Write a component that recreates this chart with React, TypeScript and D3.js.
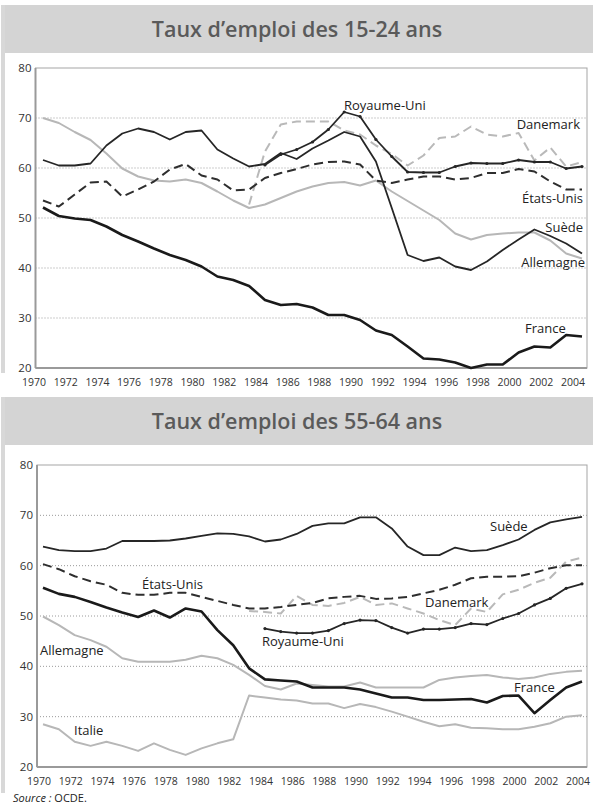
import * as d3 from "d3";

const YEARS = [
  1970, 1971, 1972, 1973, 1974, 1975, 1976, 1977, 1978, 1979, 1980, 1981, 1982, 1983, 1984, 1985, 1986,
  1987, 1988, 1989, 1990, 1991, 1992, 1993, 1994, 1995, 1996, 1997, 1998, 1999, 2000, 2001, 2002, 2003,
  2004
];
const TICK_YEARS = [1970, 1972, 1974, 1976, 1978, 1980, 1982, 1984, 1986, 1988, 1990, 1992, 1994, 1996, 1998, 2000, 2002, 2004];
const Y_TICKS = [20, 30, 40, 50, 60, 70, 80];

const N = null;

// 15-24 ans
const suede15 = [61.6, 60.5, 60.5, 60.9, 64.5, 66.9, 67.9, 67.2, 65.7, 67.2, 67.5, 63.7, 61.9, 60.3, 60.8, 63.0, 61.8, 63.9, 65.5, 67.2, 66.3, 61.3, 52.0, 42.6, 41.4, 42.1, 40.3, 39.6, 41.3, 43.6, 45.7, 47.7, 46.4, 44.9, 42.9];
const ru15 = [N, N, N, N, N, N, N, N, N, N, N, N, N, N, 60.6, 62.7, 63.7, 65.2, 67.7, 71.2, 70.3, 65.7, 62.3, 59.2, 59.1, 59.1, 60.3, 61.0, 60.9, 60.9, 61.6, 61.2, 61.2, 59.9, 60.3];
const allemagne15 = [70.0, 69.0, 67.2, 65.6, 62.9, 59.9, 58.3, 57.5, 57.3, 57.7, 57.0, 55.3, 53.5, 52.0, 52.7, 54.0, 55.3, 56.3, 57.0, 57.2, 56.5, 57.5, 55.3, 53.4, 51.5, 49.6, 46.9, 45.7, 46.6, 46.9, 47.1, 47.1, 45.5, 42.9, 41.9];
const usa15 = [53.5, 52.3, 54.7, 57.1, 57.3, 54.3, 55.7, 57.3, 59.7, 60.8, 58.5, 57.7, 55.5, 55.7, 58.0, 59.0, 59.8, 60.7, 61.2, 61.3, 60.7, 57.5, 57.0, 57.7, 58.3, 58.3, 57.7, 58.0, 59.0, 59.0, 59.8, 59.3, 57.3, 55.7, 55.7];
const danemark15 = [N, N, N, N, N, N, N, N, N, N, N, N, N, 52.7, 63.3, 68.7, 69.3, 69.3, 69.3, 67.5, 66.7, 64.5, 62.8, 60.5, 62.5, 66.0, 66.3, 68.3, 66.7, 66.3, 67.0, 61.5, 64.1, 60.3, 61.2];
const france15 = [52.1, 50.4, 49.9, 49.6, 48.3, 46.6, 45.3, 43.9, 42.6, 41.6, 40.3, 38.3, 37.6, 36.4, 33.6, 32.6, 32.8, 32.1, 30.6, 30.6, 29.6, 27.5, 26.6, 24.3, 21.9, 21.7, 21.1, 20.0, 20.7, 20.7, 23.1, 24.3, 24.1, 26.6, 26.3];

// 55-64 ans
const suede55 = [63.8, 63.1, 62.9, 62.9, 63.4, 64.9, 64.9, 64.9, 65.0, 65.4, 65.9, 66.4, 66.3, 65.8, 64.8, 65.2, 66.3, 67.9, 68.4, 68.4, 69.6, 69.6, 67.4, 63.8, 62.1, 62.1, 63.6, 62.9, 63.1, 64.1, 65.2, 67.1, 68.6, 69.2, 69.7];
const usa55 = [60.3, 59.3, 57.9, 56.9, 56.2, 54.6, 54.2, 54.2, 54.6, 54.6, 53.8, 53.0, 52.2, 51.5, 51.5, 51.8, 52.2, 52.6, 53.5, 53.8, 54.0, 53.4, 53.5, 53.8, 54.5, 55.2, 56.2, 57.5, 57.8, 57.8, 57.9, 58.6, 59.5, 60.1, 60.1];
const danemark55 = [N, N, N, N, N, N, N, N, N, N, N, N, N, 51.0, 50.8, 50.5, 54.0, 52.2, 52.0, 52.6, 53.8, 52.2, 52.5, 51.5, 50.5, 49.2, 48.2, 51.5, 50.8, 54.3, 55.2, 56.6, 57.6, 60.8, 61.6];
const ru55 = [N, N, N, N, N, N, N, N, N, N, N, N, N, N, 47.5, 46.9, 46.6, 46.6, 47.1, 48.5, 49.2, 49.1, 47.7, 46.6, 47.4, 47.4, 47.7, 48.5, 48.3, 49.5, 50.5, 52.2, 53.5, 55.5, 56.4];
const france55 = [55.6, 54.4, 53.8, 52.8, 51.7, 50.7, 49.8, 51.1, 49.7, 51.5, 50.9, 47.2, 44.2, 39.6, 37.4, 37.2, 37.0, 35.8, 35.8, 35.8, 35.4, 34.6, 33.8, 33.8, 33.3, 33.3, 33.4, 33.5, 32.8, 34.1, 34.2, 30.7, 33.3, 35.8, 37.0];
const allemagne55 = [49.9, 48.2, 46.2, 45.2, 43.9, 41.6, 40.9, 40.9, 40.9, 41.3, 42.1, 41.6, 40.3, 38.3, 36.1, 35.4, 36.6, 36.3, 36.0, 36.0, 36.8, 35.8, 35.8, 35.8, 35.8, 37.3, 37.8, 38.1, 38.3, 37.8, 37.5, 37.8, 38.5, 38.9, 39.1];
const italie55 = [28.5, 27.5, 25.0, 24.2, 25.0, 24.2, 23.2, 24.7, 23.4, 22.4, 23.7, 24.7, 25.5, 34.2, 33.8, 33.4, 33.2, 32.6, 32.6, 31.7, 32.5, 31.9, 31.0, 30.0, 29.0, 28.1, 28.5, 27.8, 27.7, 27.5, 27.5, 28.0, 28.7, 30.0, 30.3];

type Style = "black" | "france" | "dashBlack" | "dashGrey" | "grey";
type Series = { values: (number | null)[]; style: Style; dots?: boolean };
type Label = { text: string; x: number; y: number; anchor?: string };

const STYLES: Record<Style, { stroke: string; width: number; dash?: string }> = {
  black: { stroke: "#262626", width: 1.8 },
  france: { stroke: "#1a1a1a", width: 2.6 },
  dashBlack: { stroke: "#2e2e2e", width: 2, dash: "9 5" },
  dashGrey: { stroke: "#b9b9b9", width: 2, dash: "9 5" },
  grey: { stroke: "#b7b7b7", width: 2 }
};

const FONT = "'Open Sans', 'DejaVu Sans', sans-serif";

function Panel({
  top,
  title,
  plotTop,
  plotBottom,
  plotLeft,
  tickShift,
  series,
  labels,
  barBottom
}: {
  top: number;
  title: string;
  plotTop: number;
  plotBottom: number;
  plotLeft: number;
  tickShift: number;
  series: Series[];
  labels: Label[];
  barBottom: number;
}) {
  const plotRight = 587;
  const x = d3.scaleLinear().domain([1970, 2004]).range([43, 582]);
  const y = d3.scaleLinear().domain([20, 80]).range([plotBottom, plotTop]);
  const line = d3
    .line<number | null>()
    .defined((d) => d !== null)
    .x((_, i) => x(YEARS[i]))
    .y((d) => y(d as number));

  return (
    <g>
      <rect x={2} y={top} width={591} height={48} fill="#d4d4d4" />
      <rect x={1} y={top} width={4} height={barBottom - top} fill="#d8d8d8" />
      <text
        x={297}
        y={top + 32}
        textAnchor="middle"
        fontFamily={FONT}
        fontWeight={600}
        fontSize={21.5}
        fill="#5a5a5a"
      >
        {title}
      </text>

      {Y_TICKS.filter((t) => t > 20 && t < 80).map((t) => (
        <line
          key={t}
          x1={plotLeft}
          x2={plotRight}
          y1={y(t)}
          y2={y(t)}
          stroke="#9a9a9a"
          strokeWidth={1}
          strokeDasharray="1 2"
        />
      ))}
      <rect
        x={plotLeft}
        y={plotTop}
        width={plotRight - plotLeft}
        height={plotBottom - plotTop}
        fill="none"
        stroke="#a5a5a5"
        strokeWidth={1}
      />
      <line x1={plotLeft} x2={plotLeft} y1={plotTop} y2={plotBottom} stroke="#9a9a9a" strokeWidth={2} />
      <line x1={plotLeft} x2={plotRight} y1={plotBottom} y2={plotBottom} stroke="#9a9a9a" strokeWidth={2} />

      {Y_TICKS.map((t) => (
        <text key={t} x={plotLeft - 4} y={y(t) + 4} textAnchor="end" fontFamily={FONT} fontSize={11.5} fill="#333">
          {t}
        </text>
      ))}
      {TICK_YEARS.map((t) => (
        <text
          key={t}
          x={x(t) + tickShift}
          y={plotBottom + 18}
          textAnchor="middle"
          fontFamily={FONT}
          fontSize={10.5}
          fill="#333"
        >
          {t}
        </text>
      ))}

      {series.map((s, i) => {
        const st = STYLES[s.style];
        return (
          <g key={i}>
            <path
              d={line(s.values) ?? ""}
              fill="none"
              stroke={st.stroke}
              strokeWidth={st.width}
              strokeDasharray={st.dash}
              strokeLinejoin="round"
            />
            {s.dots &&
              s.values.map((v, j) =>
                v === null ? null : <circle key={j} cx={x(YEARS[j])} cy={y(v)} r={1.6} fill={st.stroke} />
              )}
          </g>
        );
      })}

      {labels.map((l) => (
        <text
          key={l.text}
          x={l.x}
          y={l.y}
          textAnchor={l.anchor ?? "start"}
          fontFamily={FONT}
          fontSize={13}
          fill="#222"
        >
          {l.text}
        </text>
      ))}
    </g>
  );
}

export default function App() {
  return (
    <div style={{ position: "absolute", left: 0, top: 0 }}>
      <svg width={595} height={809} style={{ display: "block", background: "#fff" }}>
        <Panel
          top={5}
          title="Taux d’emploi des 15-24 ans"
          plotTop={68}
          plotBottom={368}
          plotLeft={35.5}
          tickShift={-9}
          barBottom={373}
          series={[
            { values: allemagne15, style: "grey" },
            { values: danemark15, style: "dashGrey" },
            { values: usa15, style: "dashBlack" },
            { values: suede15, style: "black" },
            { values: ru15, style: "black", dots: true },
            { values: france15, style: "france" }
          ]}
          labels={[
            { text: "Royaume-Uni", x: 344, y: 110 },
            { text: "Danemark", x: 580, y: 129, anchor: "end" },
            { text: "États-Unis", x: 583, y: 203, anchor: "end" },
            { text: "Suède", x: 583, y: 232, anchor: "end" },
            { text: "Allemagne", x: 585, y: 267, anchor: "end" },
            { text: "France", x: 525, y: 333 }
          ]}
        />
        <Panel
          top={397}
          title="Taux d’emploi des 55-64 ans"
          plotTop={465}
          plotBottom={767}
          plotLeft={37}
          tickShift={-4}
          barBottom={793}
          series={[
            { values: allemagne55, style: "grey" },
            { values: italie55, style: "grey" },
            { values: danemark55, style: "dashGrey" },
            { values: usa55, style: "dashBlack" },
            { values: suede55, style: "black" },
            { values: ru55, style: "black", dots: true },
            { values: france55, style: "france" }
          ]}
          labels={[
            { text: "Suède", x: 490, y: 531 },
            { text: "États-Unis", x: 142, y: 589 },
            { text: "Danemark", x: 425, y: 607 },
            { text: "Royaume-Uni", x: 262, y: 646 },
            { text: "Allemagne", x: 40, y: 655 },
            { text: "France", x: 514, y: 692 },
            { text: "Italie", x: 74, y: 735 }
          ]}
        />
        <text x={13} y={802} fontFamily={FONT} fontSize={11} fill="#222">
          <tspan fontStyle="italic">Source :</tspan> OCDE.
        </text>
      </svg>
    </div>
  );
}
